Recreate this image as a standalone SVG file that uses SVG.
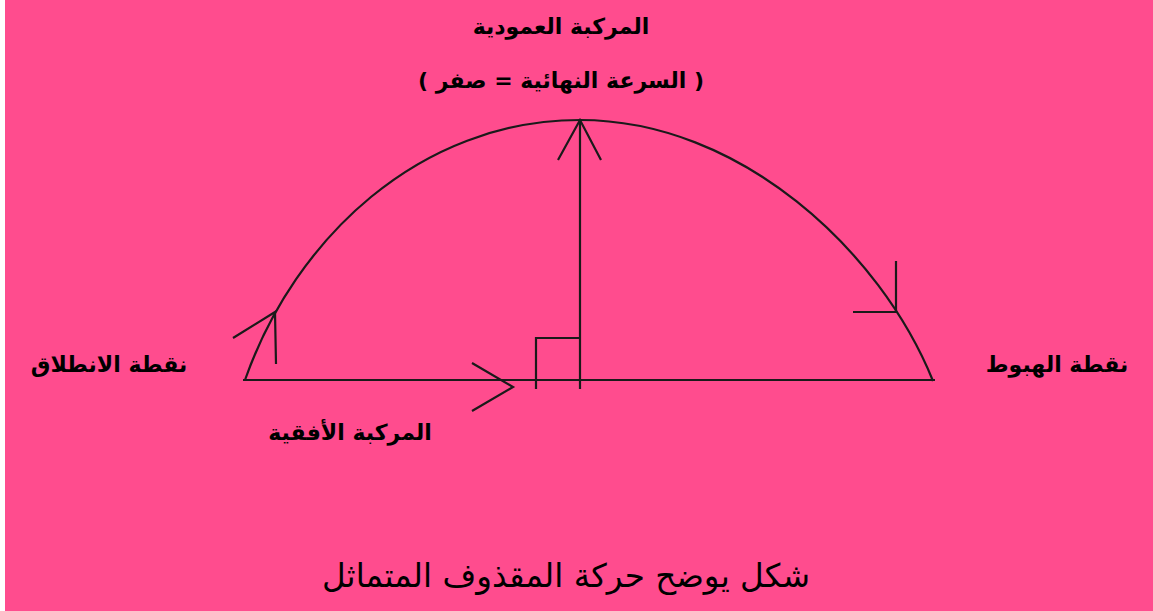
<svg xmlns="http://www.w3.org/2000/svg" width="1153" height="611" viewBox="0 0 1153 611">
<style>
.ln{fill:none;stroke:#1a1a1a;stroke-width:2.2;stroke-linecap:butt}
.lb{font-family:"DejaVu Sans",sans-serif;font-weight:bold;fill:#000;text-anchor:middle}
.cap{font-family:"DejaVu Sans",sans-serif;fill:#000;text-anchor:middle}
</style>
<rect x="0" y="0" width="1153" height="611" fill="#ffffff"/>
<rect x="5" y="0" width="1148" height="611" fill="#FF4C8E"/>
<g id="connectors">
<path id="trajectory" class="ln" d="M245,380 C295,238 420,120 580,120 C740,120 880,250 933,381"/>
<line id="baseline" class="ln" x1="243" y1="380" x2="935" y2="380"/>
<line id="vertical" class="ln" x1="580" y1="120" x2="580" y2="389"/>
<polyline class="ln" points="558,160 580,120 601,160"/>
<polyline class="ln" points="472,363 513,387 472,411"/>
<polyline class="ln" points="233,338 275,312 276,364"/>
<polyline class="ln" points="896,261 896,312 853,312"/>
<polyline id="right-angle" class="ln" points="536,389 536,338 579,338"/>
</g>
<g id="label-vertical">
<text class="lb" x="561" y="34" font-size="22">المركبة العمودية</text>
<text class="lb" x="561" y="88" font-size="22">( السرعة النهائية = صفر )</text>
</g>
<g id="label-start"><text class="lb" x="109" y="372" font-size="22">نقطة الانطلاق</text></g>
<g id="label-landing"><text class="lb" x="1057" y="372" font-size="22">نقطة الهبوط</text></g>
<g id="label-horizontal"><text class="lb" x="350" y="440" font-size="22">المركبة الأفقية</text></g>
<g id="caption"><text class="cap" x="566" y="587" font-size="32.6">شكل يوضح حركة المقذوف المتماثل</text></g>
</svg>
